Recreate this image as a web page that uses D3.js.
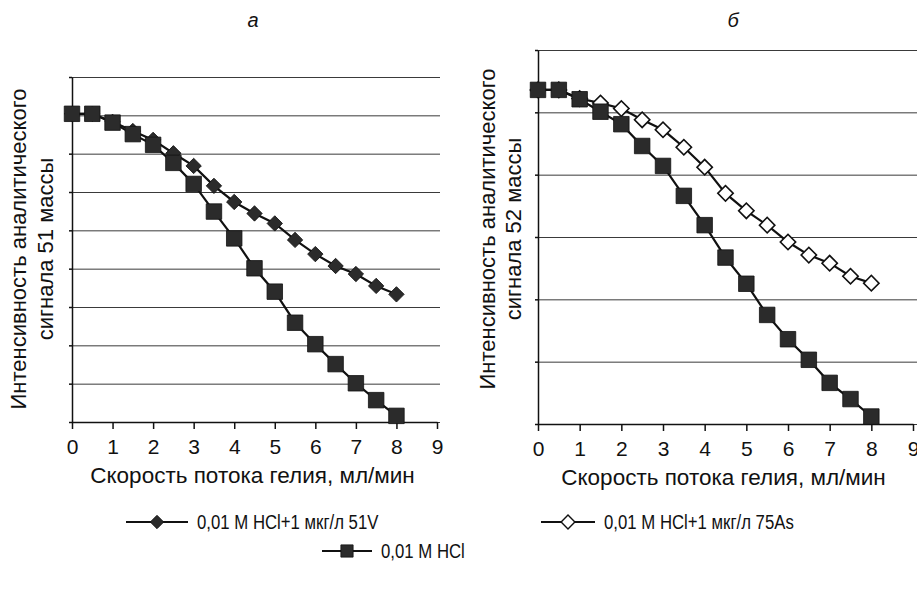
<!DOCTYPE html>
<html>
<head>
<meta charset="utf-8">
<script src="https://cdn.jsdelivr.net/npm/d3@7"></script>
<style>
  body { margin: 0; background: #fff; }
  svg { font-family: Arial, "Liberation Sans", sans-serif; }
</style>
</head>
<body>
<div id="chart"></div>
<script>
// Flow rate of helium, ml/min (x values of every point)
const flowRates = [0, 0.5, 1, 1.5, 2, 2.5, 3, 3.5, 4, 4.5, 5, 5.5, 6, 6.5, 7, 7.5, 8];

// Panel a - mass 51 signal (grid units, no numeric labels in source)
const hclMass51 = [8.04, 8.04, 7.81, 7.51, 7.23, 6.76, 6.21, 5.49, 4.79, 4.01, 3.40, 2.59, 2.03, 1.51, 1.01, 0.57, 0.16];
const vanadiumMass51 = [8.04, 8.04, 7.83, 7.59, 7.36, 7.01, 6.68, 6.16, 5.74, 5.44, 5.18, 4.75, 4.38, 4.07, 3.86, 3.55, 3.33];

// Panel б - mass 52 signal
const hclMass52 = [5.36, 5.36, 5.21, 5.01, 4.81, 4.46, 4.14, 3.66, 3.19, 2.67, 2.25, 1.75, 1.36, 1.03, 0.66, 0.40, 0.12];
const arsenicMass52 = [5.36, 5.36, 5.22, 5.15, 5.06, 4.88, 4.72, 4.44, 4.12, 3.70, 3.42, 3.19, 2.92, 2.71, 2.58, 2.37, 2.26];

const xTicks = [0, 1, 2, 3, 4, 5, 6, 7, 8, 9];
const gridLeft = [0, 1, 2, 3, 4, 5, 6, 7, 8, 9];
const gridRight = [0, 1, 2, 3, 4, 5, 6];

const seriesNames = ['0,01 М HCl+1 мкг/л 51V', '0,01 М HCl+1 мкг/л 75As', '0,01 М HCl'];
const xTitle = 'Скорость потока гелия, мл/мин';
const yTitleLeft = ['Интенсивность аналитического', 'сигнала 51 массы'];
const yTitleRight = ['Интенсивность аналитического', 'сигнала 52 массы'];
const panelLabels = ['а', 'б'];

// marker path helpers (diamonds are squares turned by 45 degrees)
const diamondPath = d3.symbol().type(d3.symbolSquare).size(118)();
const squarePath = d3.symbol().type(d3.symbolSquare).size(240)();

class Panel {

  constructor(_config, _series) {
    this.config = {
      parent: _config.parent,
      margin: _config.margin,
      width: _config.width,
      height: _config.height,
      yMax: _config.yMax,
      grid: _config.grid,
      gridExtra: _config.gridExtra,
      yTitle: _config.yTitle,
      yTitleX: _config.yTitleX,
      yTitleY: _config.yTitleY,
      label: _config.label,
      labelX: _config.labelX
    };
    this.series = _series;
    this.initVis();
  }

  initVis() {
    let vis = this;

    vis.xScale = d3.scaleLinear()
      .domain([0, 9])
      .range([0, vis.config.width]);
    vis.yScale = d3.scaleLinear()
      .domain([0, vis.config.yMax])
      .range([vis.config.height, 0]);

    vis.chart = vis.config.parent.append('g')
      .attr('transform', `translate(${vis.config.margin.left},${vis.config.margin.top})`);

    // horizontal grid lines
    vis.gridG = vis.chart.append('g')
      .attr('class', 'grid')
      .call(d3.axisLeft(vis.yScale)
        .tickValues(vis.config.grid)
        .tickSize(-(vis.config.width + vis.config.gridExtra))
        .tickFormat(''));
    vis.gridG.select('.domain').remove();
    vis.gridG.selectAll('line').attr('stroke', '#3a3a3a').attr('stroke-width', 1);

    // y axis with small outer ticks
    vis.yAxisG = vis.chart.append('g')
      .call(d3.axisLeft(vis.yScale)
        .tickValues(vis.config.grid)
        .tickSize(3)
        .tickSizeOuter(0)
        .tickFormat(''));
    vis.yAxisG.selectAll('path, line').attr('stroke', '#111').attr('stroke-width', 1.5);

    // x axis
    vis.xAxisG = vis.chart.append('g')
      .attr('transform', `translate(0,${vis.config.height})`)
      .call(d3.axisBottom(vis.xScale)
        .tickValues(xTicks)
        .tickSize(7)
        .tickSizeOuter(0)
        .tickPadding(10)
        .tickFormat(d => d));
    vis.xAxisG.selectAll('path, line').attr('stroke', '#111').attr('stroke-width', 1.5);
    vis.xAxisG.selectAll('text')
      .attr('font-size', 21)
      .attr('font-family', 'Arial, "Liberation Sans", sans-serif')
      .attr('fill', '#111');

    // x title
    vis.chart.append('text')
      .attr('x', vis.config.width / 2 - 2)
      .attr('y', vis.config.height + 61)
      .attr('text-anchor', 'middle')
      .attr('font-size', 22.5)
      .attr('fill', '#111')
      .text(xTitle);

    // y title, two lines
    vis.config.parent.selectAll(null)
      .data(vis.config.yTitle)
      .join('text')
      .attr('transform', (d, i) => `translate(${vis.config.yTitleX[i]},${vis.config.yTitleY}) rotate(-90)`)
      .attr('text-anchor', 'middle')
      .attr('dy', '0.33em')
      .attr('font-size', 22)
      .attr('fill', '#111')
      .text(d => d);

    // panel letter
    vis.config.parent.append('text')
      .attr('x', vis.config.labelX)
      .attr('y', 27)
      .attr('text-anchor', 'middle')
      .attr('font-size', 20)
      .attr('font-style', 'italic')
      .attr('fill', '#111')
      .text(vis.config.label);

    vis.renderVis();
  }

  renderVis() {
    let vis = this;

    const line = d3.line()
      .x((d, i) => vis.xScale(flowRates[i]))
      .y(d => vis.yScale(d));

    const seriesG = vis.chart.selectAll('.series')
      .data(vis.series)
      .join('g')
      .attr('class', 'series');

    seriesG.append('path')
      .attr('d', d => line(d.values))
      .attr('fill', 'none')
      .attr('stroke', '#111')
      .attr('stroke-width', 2.2);

    seriesG.selectAll('.mark')
      .data(d => d.values.map((v, i) => ({ x: flowRates[i], y: v, shape: d.shape })))
      .join('path')
      .attr('class', 'mark')
      .attr('d', d => d.shape === 'square' ? squarePath : diamondPath)
      .attr('transform', d => {
        let rot = d.shape === 'square' ? '' : ' rotate(45)';
        return `translate(${vis.xScale(d.x)},${vis.yScale(d.y)})${rot}`;
      })
      .attr('fill', d => d.shape === 'open' ? '#fff' : '#2b2b2b')
      .attr('stroke', '#111')
      .attr('stroke-width', d => d.shape === 'open' ? 1.6 : 0.8);
  }
}

const svg = d3.select('#chart').append('svg')
  .attr('width', 917)
  .attr('height', 591);

new Panel({
  parent: svg,
  margin: { left: 72, top: 77 },
  width: 365,
  height: 345,
  yMax: 9,
  grid: gridLeft,
  gridExtra: 3,
  yTitle: yTitleLeft,
  yTitleX: [19, 46],
  yTitleY: 249,
  label: panelLabels[0],
  labelX: 253
}, [
  { values: vanadiumMass51, shape: 'diamond' },
  { values: hclMass51, shape: 'square' }
]);

new Panel({
  parent: svg,
  margin: { left: 538, top: 50 },
  width: 375,
  height: 374,
  yMax: 6,
  grid: gridRight,
  gridExtra: 6,
  yTitle: yTitleRight,
  yTitleX: [488, 514],
  yTitleY: 229,
  label: panelLabels[1],
  labelX: 733
}, [
  { values: arsenicMass52, shape: 'open' },
  { values: hclMass52, shape: 'square' }
]);

// legend
const legendItems = [
  { name: seriesNames[0], shape: 'diamond', x: 126, y: 522, len: 62 },
  { name: seriesNames[1], shape: 'open', x: 541, y: 522, len: 54 },
  { name: seriesNames[2], shape: 'square', x: 322, y: 551, len: 50 }
];

const legendSize = { diamond: 90, open: 95, square: 150 };

const legend = svg.append('g').attr('class', 'legend');
const item = legend.selectAll('.item')
  .data(legendItems)
  .join('g')
  .attr('class', 'item')
  .attr('transform', d => `translate(${d.x},${d.y})`);

item.append('line')
  .attr('x1', 0)
  .attr('x2', d => d.len)
  .attr('stroke', '#111')
  .attr('stroke-width', 2.2);

item.append('path')
  .attr('d', d => d3.symbol().type(d3.symbolSquare).size(legendSize[d.shape])())
  .attr('transform', d => d.shape === 'square'
    ? `translate(${d.len / 2},0)`
    : `translate(${d.len / 2},0) rotate(45)`)
  .attr('fill', d => d.shape === 'open' ? '#fff' : '#2b2b2b')
  .attr('stroke', '#111')
  .attr('stroke-width', d => d.shape === 'open' ? 1.4 : 0.8);

// the source uses a condensed face, emulate it by squeezing horizontally
item.append('text')
  .attr('transform', d => `translate(${d.len + 9},7) scale(0.86,1)`)
  .attr('font-size', 19.5)
  .attr('fill', '#111')
  .text(d => d.name);
</script>
</body>
</html>
